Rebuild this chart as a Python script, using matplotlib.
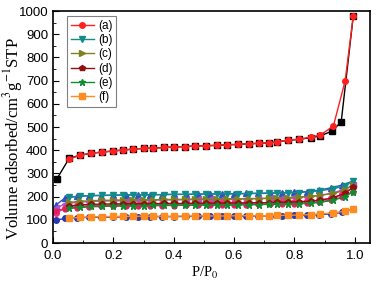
import matplotlib
matplotlib.use("Agg")
import matplotlib.pyplot as plt
from matplotlib.ticker import MultipleLocator

plt.rcParams["mathtext.fontset"] = "stix"

# adsorption branch (relative pressure)
ads_x = [0.053, 0.09, 0.125, 0.161, 0.2, 0.231, 0.266, 0.3, 0.332, 0.366, 0.401,
         0.438, 0.471, 0.506, 0.543, 0.577, 0.612, 0.648, 0.682, 0.716, 0.742,
         0.779, 0.816, 0.856, 0.886, 0.929, 0.968, 0.995]

a_ads = [362, 379, 387, 392, 397, 401, 405, 408, 409, 412, 414, 416, 418, 420,
         421, 424, 425, 428, 430, 432, 436, 444, 448, 457, 466, 504, 698, 978]
b_ads = [198, 203, 205, 206, 207, 207, 208, 208, 209, 209, 210, 210, 211, 211,
         212, 212, 213, 213, 214, 214, 215, 217, 218, 222, 226, 234, 248, 268]
c_ads = [175, 180, 183, 184, 185, 186, 186, 187, 187, 188, 188, 189, 189, 190,
         190, 191, 191, 192, 192, 193, 194, 196, 198, 202, 206, 214, 228, 252]
d_ads = [160, 165, 167, 168, 169, 169, 170, 170, 170, 171, 171, 171, 172, 172,
         172, 173, 173, 173, 174, 174, 175, 177, 178, 181, 185, 195, 215, 240]
e_ads = [150, 155, 158, 160, 161, 161, 162, 162, 163, 163, 163, 164, 164, 165,
         165, 165, 166, 166, 166, 167, 167, 169, 170, 172, 176, 185, 200, 222]
f_ads = [108, 111, 113, 114, 115, 115, 115, 116, 116, 116, 116, 117, 117, 117,
         117, 117, 118, 118, 118, 118, 119, 120, 121, 123, 126, 130, 138, 148]

# desorption branch of (a)
a_des_x = [0.995, 0.955, 0.925, 0.886, 0.856, 0.816, 0.779, 0.742, 0.716, 0.682,
           0.648, 0.612, 0.577, 0.543, 0.506, 0.471, 0.438, 0.401, 0.366, 0.332,
           0.3, 0.266, 0.231, 0.2, 0.161, 0.125, 0.09, 0.053, 0.012]
a_des = [978, 522, 483, 462, 455, 447, 443, 436, 432, 430, 428, 425, 424, 421,
         420, 418, 416, 414, 412, 409, 408, 405, 401, 397, 392, 387, 379, 365, 276]

# desorption branches of (b)-(f)
des_x = [0.995, 0.958, 0.92, 0.88, 0.84, 0.8, 0.76, 0.72, 0.68, 0.64, 0.6, 0.56,
         0.52, 0.48, 0.44, 0.4, 0.36, 0.32, 0.28, 0.24, 0.2, 0.16, 0.12, 0.08,
         0.04, 0.01]
b_des = [268, 250, 238, 228, 222, 219, 217, 216, 215, 214, 213, 212, 212, 211,
         210, 210, 209, 208, 208, 207, 206, 205, 204, 201, 195, 165]
c_des = [250, 228, 214, 205, 200, 197, 195, 193, 192, 191, 190, 189, 189, 188,
         187, 186, 186, 185, 184, 183, 182, 181, 179, 176, 170, 150]
d_des = [240, 210, 193, 184, 180, 177, 175, 174, 173, 172, 172, 171, 170, 170,
         169, 168, 168, 167, 166, 165, 164, 163, 161, 158, 152, 130]
e_des = [222, 198, 185, 177, 173, 170, 169, 168, 167, 166, 165, 165, 164, 164,
         163, 162, 162, 161, 160, 160, 159, 158, 156, 153, 148, 140]
f_des = [148, 132, 126, 122, 120, 119, 118, 117, 117, 116, 116, 116, 115, 115,
         115, 114, 114, 114, 113, 113, 112, 112, 111, 109, 106, 100]

labels = ["(a)", "(b)", "(c)", "(d)", "(e)", "(f)"]

fig = plt.figure(figsize=(3.77, 2.83), dpi=100)
ax = fig.add_axes([0.141, 0.141, 0.84, 0.82])

ms = 4
# desorption lines first, underneath
ax.plot(a_des_x, a_des, color="black", marker="s", ms=ms, lw=1)
ax.plot(des_x, b_des, color="#3050c0", marker="^", ms=ms, lw=1)
ax.plot(des_x, c_des, color="#b050d0", marker="<", ms=ms, lw=1)
ax.plot(des_x, d_des, color="#ff2a8a", marker="o", ms=ms, lw=1)
ax.plot(des_x, e_des, color="#e0205a", marker="o", ms=3.5, lw=1)
ax.plot(des_x, f_des, color="#2838b0", marker="o", ms=ms, lw=1)

ax.plot(ads_x, a_ads, color="#ff2020", marker="o", ms=ms, lw=1, label=labels[0])
ax.plot(ads_x, b_ads, color="#108c8c", marker="v", ms=ms, lw=1, label=labels[1])
ax.plot(ads_x, c_ads, color="#808020", marker=">", ms=ms, lw=1, label=labels[2])
ax.plot(ads_x, d_ads, color="#901010", marker="p", ms=ms, lw=1, label=labels[3])
ax.plot(ads_x, e_ads, color="#108c30", marker="*", ms=5, lw=1, label=labels[4])
ax.plot(ads_x, f_ads, color="#ff8c20", marker="s", ms=ms, lw=1, label=labels[5])

ax.set_xlim(0, 1.05)
ax.set_ylim(0, 1000)
ax.xaxis.set_major_locator(MultipleLocator(0.2))
ax.xaxis.set_minor_locator(MultipleLocator(0.1))
ax.yaxis.set_major_locator(MultipleLocator(100))
ax.yaxis.set_minor_locator(MultipleLocator(50))
ax.tick_params(which="both", direction="in", top=False, right=False)
ax.tick_params(which="major", length=4, labelsize=9.5)
ax.tick_params(which="minor", length=2)
ax.tick_params(axis="x", pad=5)
for lab in ax.get_xticklabels() + ax.get_yticklabels():
    lab.set_family("Liberation Sans")
for sp in ax.spines.values():
    sp.set_linewidth(1.2)

ax.set_xlabel("P/P$_0$", family="Liberation Serif", fontsize=10.5)
ax.set_ylabel("Volume adsorbed/cm$^3$g$^{-1}$STP", family="Liberation Serif", fontsize=12)
ax.yaxis.set_label_coords(-0.09, 0.45)
ax.xaxis.set_label_coords(0.48, -0.095)

leg = ax.legend(loc="upper left", bbox_to_anchor=(0.044, 0.978),
                handlelength=2.0, labelspacing=0.2, borderpad=0.3, handletextpad=0.3,
                borderaxespad=0, fancybox=False, edgecolor="#606060",
                prop={"family": "Liberation Sans", "size": 8.5})
leg.get_frame().set_linewidth(0.8)

fig.savefig("out.png", dpi=100)
